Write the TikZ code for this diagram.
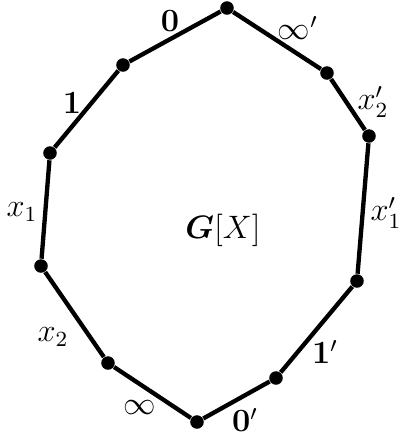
\documentclass[tikz,border=0pt]{standalone}
\usepackage{bm}
\tikzstyle{vertex} = [circle, fill, inner sep=0pt, minimum size=5pt]
\tikzstyle{edge} = [line width=1.6pt]
\tikzstyle{every node}=[font=\large]

\begin{document}
\begin{tikzpicture}[x=0.013cm, y=-0.013cm]
	\useasboundingbox (0,0) rectangle (400,437);
	% cycle vertices
	\node[vertex] (a) at (227,8) {};
	\node[vertex] (b) at (123,65) {};
	\node[vertex] (c) at (50,153) {};
	\node[vertex] (d) at (41,266) {};
	\node[vertex] (e) at (108,363) {};
	\node[vertex] (f) at (197,422) {};
	\node[vertex] (g) at (276,378) {};
	\node[vertex] (h) at (357,281) {};
	\node[vertex] (i) at (369,136) {};
	\node[vertex] (j) at (327,73) {};
	\draw[edge] (a) -- (b) -- (c) -- (d) -- (e) -- (f) -- (g) -- (h) -- (i) -- (j) -- (a);
	% edge labels
	\node (l0) at (170,21) {$\mathbf{0}$};
	\node (l1) at (72,103) {$\mathbf{1}$};
	\node (lx1) at (22,212) {$x_1$};
	\node (lx2) at (53,337) {$x_2$};
	\node (linf) at (140,408) {$\infty$};
	\node[inner sep=0pt] (l0p) at (245,420) {$\mathbf{0}'$};
	\node (l1p) at (325,352) {$\mathbf{1}'$};
	\node (lx1p) at (386,213) {$x_1'$};
	\node (lx2p) at (373,102) {$x_2'$};
	\node (linfp) at (298,28) {$\infty'$};
	\node (gx) at (223,230) {$\bm{G}[X]$};
\end{tikzpicture}
\end{document}
